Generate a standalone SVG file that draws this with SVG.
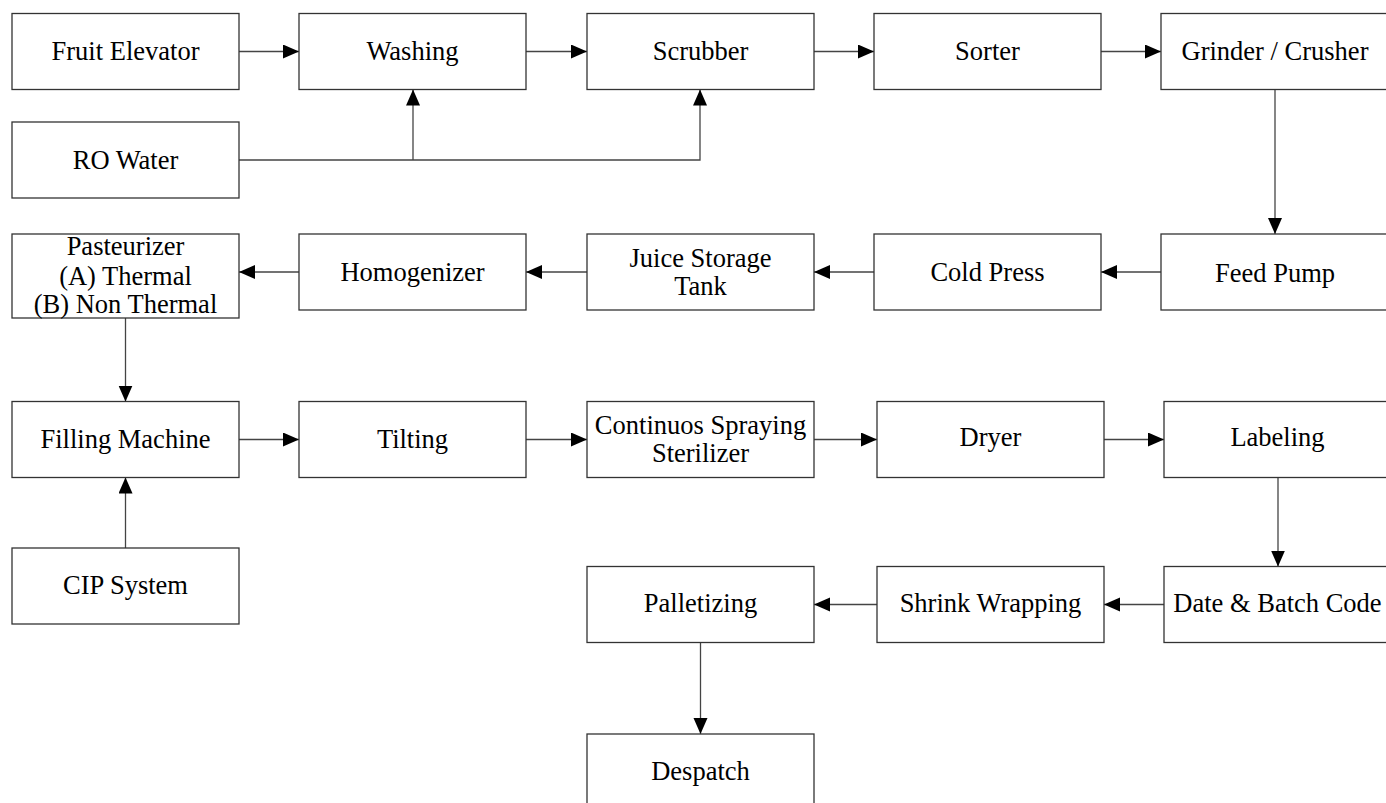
<svg xmlns="http://www.w3.org/2000/svg" width="1386" height="803" viewBox="0 0 1386 803">
<style>
.box{fill:#fff;stroke:#333;stroke-width:1.3}
.t{font-family:"Liberation Serif","Times New Roman",serif;font-size:26.5px;fill:#000;text-anchor:middle}
.c{fill:none;stroke:#444;stroke-width:1.3}
</style>
<defs>
<marker id="ah" markerUnits="userSpaceOnUse" markerWidth="17" markerHeight="15" refX="16" refY="7" orient="auto">
<path d="M0,0 L16,7 L0,14 z" fill="#000"/>
</marker>
</defs>
<rect width="1386" height="803" fill="#fff"/>
<g id="connectors">
<line class="c" x1="239" y1="51.5" x2="299" y2="51.5" marker-end="url(#ah)"/>
<line class="c" x1="526" y1="51.5" x2="587" y2="51.5" marker-end="url(#ah)"/>
<line class="c" x1="814" y1="51.5" x2="874" y2="51.5" marker-end="url(#ah)"/>
<line class="c" x1="1101" y1="51.5" x2="1161" y2="51.5" marker-end="url(#ah)"/>
<line class="c" x1="1275" y1="89.5" x2="1275" y2="234" marker-end="url(#ah)"/>
<polyline class="c" points="239,160 700,160 700,89.5" marker-end="url(#ah)"/>
<line class="c" x1="413" y1="160" x2="413" y2="89.5" marker-end="url(#ah)"/>
<line class="c" x1="1161" y1="272" x2="1101" y2="272" marker-end="url(#ah)"/>
<line class="c" x1="874" y1="272" x2="814" y2="272" marker-end="url(#ah)"/>
<line class="c" x1="587" y1="272" x2="526" y2="272" marker-end="url(#ah)"/>
<line class="c" x1="299" y1="272" x2="239" y2="272" marker-end="url(#ah)"/>
<line class="c" x1="125.5" y1="318" x2="125.5" y2="401.5" marker-end="url(#ah)"/>
<line class="c" x1="125.5" y1="548" x2="125.5" y2="477.5" marker-end="url(#ah)"/>
<line class="c" x1="239" y1="439.5" x2="299" y2="439.5" marker-end="url(#ah)"/>
<line class="c" x1="526" y1="439.5" x2="587" y2="439.5" marker-end="url(#ah)"/>
<line class="c" x1="814" y1="439.5" x2="877" y2="439.5" marker-end="url(#ah)"/>
<line class="c" x1="1104" y1="439.5" x2="1164" y2="439.5" marker-end="url(#ah)"/>
<line class="c" x1="1278" y1="477.5" x2="1278" y2="566.5" marker-end="url(#ah)"/>
<line class="c" x1="1164" y1="604.5" x2="1104" y2="604.5" marker-end="url(#ah)"/>
<line class="c" x1="877" y1="604.5" x2="814" y2="604.5" marker-end="url(#ah)"/>
<line class="c" x1="700.5" y1="642.5" x2="700.5" y2="734" marker-end="url(#ah)"/>
</g>
<g id="fruit-elevator"><rect class="box" x="12" y="13.5" width="227" height="76"/><text class="t" x="125.5" y="60">Fruit Elevator</text></g>
<g id="washing"><rect class="box" x="299" y="13.5" width="227" height="76"/><text class="t" x="412.5" y="60">Washing</text></g>
<g id="scrubber"><rect class="box" x="587" y="13.5" width="227" height="76"/><text class="t" x="700.5" y="60">Scrubber</text></g>
<g id="sorter"><rect class="box" x="874" y="13.5" width="227" height="76"/><text class="t" x="987.5" y="60">Sorter</text></g>
<g id="grinder"><rect class="box" x="1161" y="13.5" width="227" height="76"/><text class="t" x="1275" y="60">Grinder / Crusher</text></g>
<g id="ro-water"><rect class="box" x="12" y="122" width="227" height="76"/><text class="t" x="125.5" y="168.5">RO Water</text></g>
<g id="pasteurizer"><rect class="box" x="12" y="234" width="227" height="84"/><text class="t" x="125.5" y="255">Pasteurizer</text><text class="t" x="125.5" y="284.5">(A) Thermal</text><text class="t" x="125.5" y="313">(B) Non Thermal</text></g>
<g id="homogenizer"><rect class="box" x="299" y="234" width="227" height="76"/><text class="t" x="412.5" y="280.5">Homogenizer</text></g>
<g id="juice-storage"><rect class="box" x="587" y="234" width="227" height="76"/><text class="t" x="700.5" y="266.5">Juice Storage</text><text class="t" x="700.5" y="295">Tank</text></g>
<g id="cold-press"><rect class="box" x="874" y="234" width="227" height="76"/><text class="t" x="987.5" y="280.5">Cold Press</text></g>
<g id="feed-pump"><rect class="box" x="1161" y="234" width="227" height="76"/><text class="t" x="1275" y="282">Feed Pump</text></g>
<g id="filling-machine"><rect class="box" x="12" y="401.5" width="227" height="76"/><text class="t" x="125.5" y="448">Filling Machine</text></g>
<g id="tilting"><rect class="box" x="299" y="401.5" width="227" height="76"/><text class="t" x="412.5" y="448">Tilting</text></g>
<g id="sterilizer"><rect class="box" x="587" y="401.5" width="227" height="76"/><text class="t" x="700.5" y="434">Continuos Spraying</text><text class="t" x="700.5" y="461.5">Sterilizer</text></g>
<g id="dryer"><rect class="box" x="877" y="401.5" width="227" height="76"/><text class="t" x="990.5" y="446">Dryer</text></g>
<g id="labeling"><rect class="box" x="1164" y="401.5" width="227" height="76"/><text class="t" x="1277.5" y="446">Labeling</text></g>
<g id="cip-system"><rect class="box" x="12" y="548" width="227" height="76"/><text class="t" x="125.5" y="594">CIP System</text></g>
<g id="palletizing"><rect class="box" x="587" y="566.5" width="227" height="76"/><text class="t" x="700.5" y="612">Palletizing</text></g>
<g id="shrink-wrapping"><rect class="box" x="877" y="566.5" width="227" height="76"/><text class="t" x="990.5" y="612">Shrink Wrapping</text></g>
<g id="date-batch"><rect class="box" x="1164" y="566.5" width="227" height="76"/><text class="t" x="1277.5" y="612">Date &amp; Batch Code</text></g>
<g id="despatch"><rect class="box" x="587" y="734" width="227" height="76"/><text class="t" x="700.5" y="780">Despatch</text></g>
</svg>
